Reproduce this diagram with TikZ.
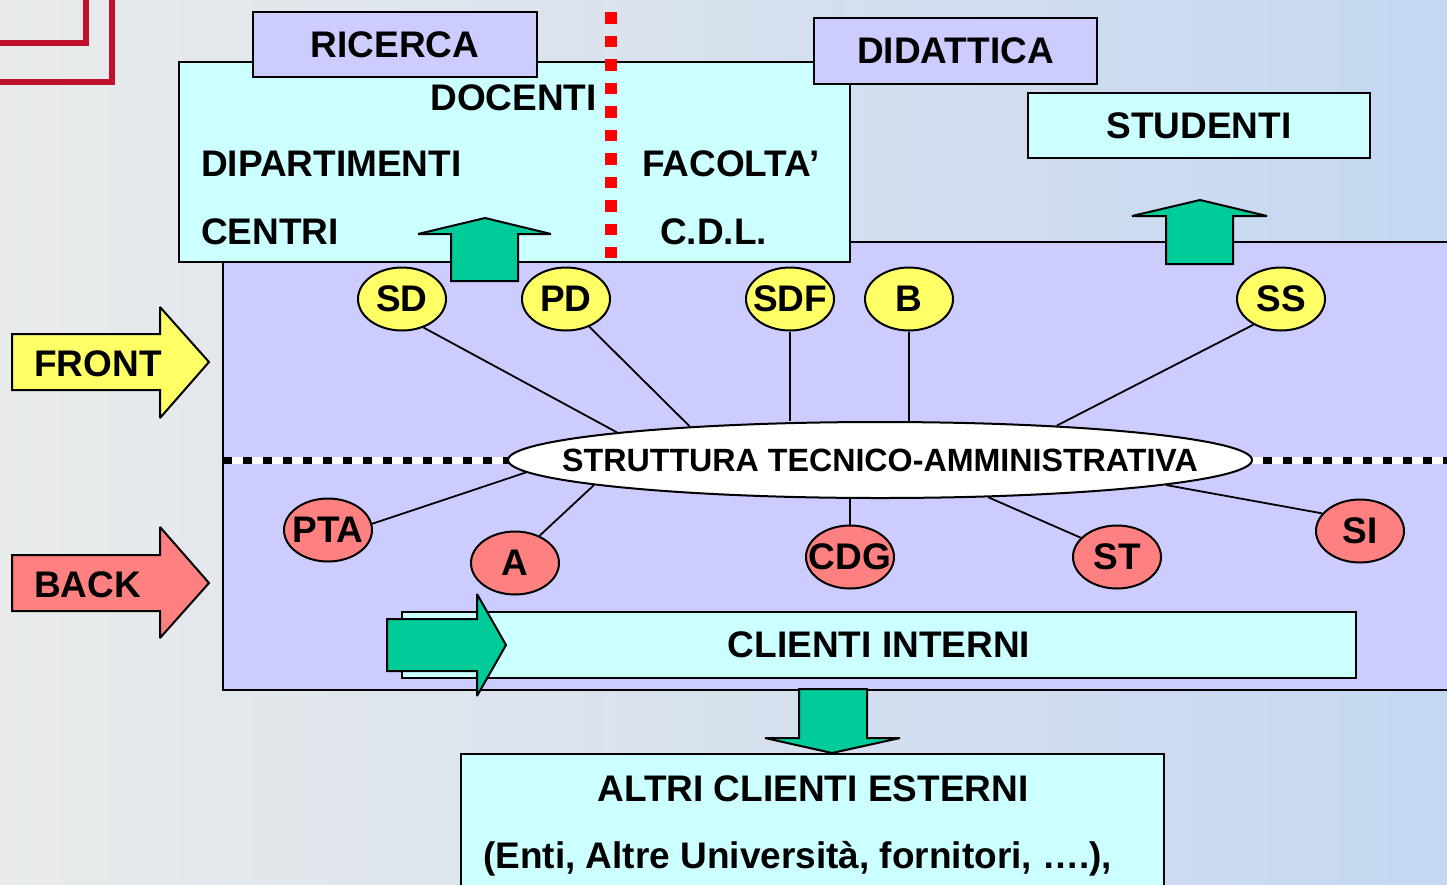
\documentclass[tikz,border=0pt]{standalone}
\usepackage{fontspec}
\setmainfont{Liberation Sans}
\usepackage{xcolor}
\usepackage{tikz}
\usetikzlibrary{shapes.geometric, positioning}

\definecolor{sfondoL}{RGB}{233,235,235}
\definecolor{sfondoR}{RGB}{197,215,241}
\definecolor{lilla}{RGB}{204,204,255}
\definecolor{ciano}{RGB}{204,255,255}
\definecolor{giallo}{RGB}{255,255,102}
\definecolor{rosa}{RGB}{255,128,128}
\definecolor{verde}{RGB}{0,204,153}
\definecolor{rossoL}{RGB}{192,16,44}

\tikzset{
  etich/.style={font=\fontsize{37}{44}\selectfont\bfseries, inner sep=0pt},
  box/.style={draw, line width=2.4pt, etich},
  freccia/.style={draw, line width=2pt, line join=miter, miter limit=1.5},
  fronte/.style={ellipse, draw, line width=2pt, fill=giallo, minimum width=88pt, minimum height=63pt, etich},
  retro/.style={fronte, fill=rosa},
  filo/.style={line width=1.8pt}
}

\begin{document}
\begin{tikzpicture}[x=1pt, y=-1pt]
        \useasboundingbox (0,0) rectangle (1447,884);
        \clip (0,0) rectangle (1447,884);

        % Background and corner lines
        \shade[left color=sfondoL, middle color=sfondoL!80!sfondoR, right color=sfondoR] (0,0) rectangle (1447,884);
        \draw[rossoL, line width=6pt] (-5,43) -- (86,43) -- (86,-5);
        \draw[rossoL, line width=6pt] (-5,82) -- (112,82) -- (112,-5);

        % Front/back panel
        \draw[fill=lilla, line width=2.4pt] (223,242) rectangle (1460,690);

        % Ricerca / didattica
        \node[box, fill=ciano, minimum width=671pt, minimum height=200pt] (polo) at (514.5,162) {};
        \node[box, fill=lilla, minimum width=284pt, minimum height=65pt] (ricerca) at (395,44.5) {RICERCA};
        \node[box, fill=lilla, minimum width=283pt, minimum height=66pt] (didattica) at (955.5,51) {DIDATTICA};
        \node[box, fill=ciano, minimum width=342pt, minimum height=65pt] (studenti) at (1199,125.5) {STUDENTI};
        \node[etich, anchor=base east] (docenti) at (597,110) {DOCENTI};
        \node[etich, anchor=base west] (dipartimenti) at (201,176) {DIPARTIMENTI};
        \node[etich, anchor=base west] (centri) at (201,244) {CENTRI};
        \node[etich, anchor=base west] (facolta) at (642,176) {FACOLTA’};
        \node[etich, anchor=base west] (cdl) at (660,244) {C.D.L.};
        \draw[red, line width=12pt, dash pattern=on 11.5pt off 12pt] (611,12) -- (611,258);

        % Arrows up
        \draw[freccia, fill=verde] (451,281) -- (451,234) -- (418,234) -- (485,218) -- (551,234) -- (518,234) -- (518,281) -- cycle;
        \draw[freccia, fill=verde] (1166,264) -- (1166,216) -- (1132,216) -- (1200,200) -- (1267,216) -- (1233,216) -- (1233,264) -- cycle;

        % Front and back
        \draw[freccia, fill=giallo] (12,334) -- (160,334) -- (160,307) -- (209,362) -- (160,418) -- (160,390) -- (12,390) -- cycle;
        \node[etich, anchor=base west] (front) at (34,376) {FRONT};
        \draw[freccia, fill=rosa] (12,555) -- (160,555) -- (160,527) -- (209,583) -- (160,638) -- (160,611) -- (12,611) -- cycle;
        \node[etich, anchor=base west] (back) at (34,597) {BACK};

        % Separation line
        \draw[white, line width=7pt] (223,460) -- (1460,460);
        \draw[black, line width=7pt, dash pattern=on 9pt off 11pt] (223,460) -- (1460,460);

        % Struttura and services
        \node[ellipse, draw, line width=2pt, fill=white, minimum width=744pt, minimum height=76pt, inner sep=0pt,
              font=\fontsize{32.2}{38}\selectfont\bfseries] (STA) at (880,460) {\makebox[0pt]{STRUTTURA TECNICO-AMMINISTRATIVA}};
        \foreach \lab/\x/\y in {SD/402/299, PD/566/299, SDF/790/299, B/909/299, SS/1281/299} {
                \node[fronte] (\lab) at (\x,\y) {\makebox[0pt]{\lab}};
            }
        \foreach \lab/\x/\y in {PTA/328/530, A/515/563, CDG/850/557, ST/1117/557, SI/1360/531} {
                \node[retro] (\lab) at (\x,\y) {\makebox[0pt]{\lab}};
            }
        \foreach \da/\a in {SD.-53/STA.174, PD.-50/STA.170, SS.-137/STA.11, PTA.8/STA.-178.2, A.48/STA.-175.9, ST.152/STA.-19, SI.155/STA.-5} {
                \draw[filo] (\da) -- (\a);
            }
        \draw[filo] (SDF.south) -- (SDF.south |- STA.north);
        \draw[filo] (B.south) -- (B.south |- STA.north);
        \draw[filo] (CDG.north) -- (CDG.north |- STA.south);

        % Clienti interni
        \node[box, fill=ciano, minimum width=954pt, minimum height=66pt] (interni) at (879,645) {CLIENTI INTERNI};
        \draw[freccia, fill=verde] (387,619) -- (477,619) -- (477,594) -- (506,645) -- (477,696) -- (477,671) -- (387,671) -- cycle;

        % Clienti esterni
        \draw[freccia, fill=verde] (799,689) -- (867,689) -- (867,738) -- (900,738) -- (832,753) -- (765,738) -- (799,738) -- cycle;
        \node[box, fill=ciano, minimum width=703pt, minimum height=160pt, anchor=north] (esterni) at (812.5,753) {};
        \node[etich, anchor=base] (altri) at (813,801) {ALTRI CLIENTI ESTERNI};
        \node[etich, anchor=base west] (enti) at (483,868) {(Enti, Altre Università, fornitori, ….),};
    \end{tikzpicture}
\end{document}
